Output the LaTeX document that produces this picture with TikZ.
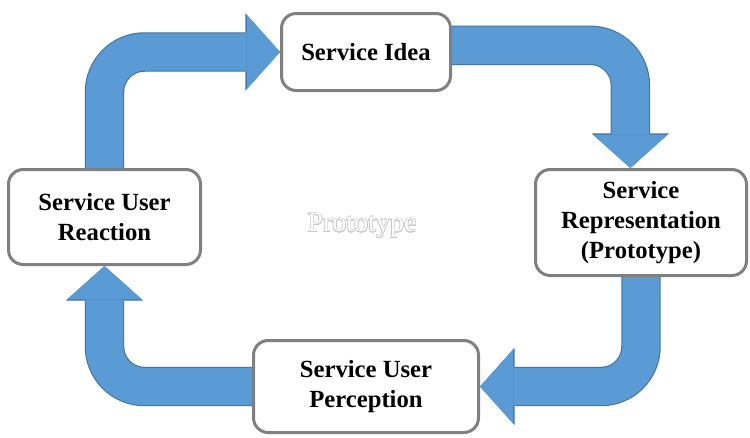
\documentclass[tikz,border=0pt]{standalone}
\usepackage{fontspec}
\setmainfont{Liberation Serif}[BoldFont={Liberation Serif Bold}]
\usepackage{contour}
\usetikzlibrary{arrows.meta,calc}
\usepackage{xcolor}
\definecolor{flowblue}{HTML}{5B9BD5}
\definecolor{flowedge}{HTML}{41719C}
\definecolor{boxgray}{HTML}{808080}
\contourlength{0.4pt}

\begin{document}
\begin{tikzpicture}[x=0.75pt,y=-0.75pt,
	box/.style={draw=boxgray,line width=2.25pt,rounded corners=11pt,fill=white,align=center,
		font=\bfseries\fontsize{18.5}{22.5}\selectfont},
	flow/.style={draw=flowblue,line width=28pt,rounded corners=30pt,
		-{Triangle[width=56pt,length=25pt,line width'=0pt]},
		preaction={draw=flowedge,line width=29.6pt,-{Triangle[width=58pt,length=26pt,line width'=0pt]}}}]
		\useasboundingbox (0,0) rectangle (750,437);
		
		% the four stages
		\node[box,minimum width=126.75pt,minimum height=57.75pt] (idea) at (366,52) {Service Idea};
		\node[box,minimum width=144pt,minimum height=71.25pt] (reaction) at (104.5,217) {Service User\\Reaction};
		\node[box,minimum width=158.25pt,minimum height=79.5pt] (repres) at (641,222.5) {Service\\Representation\\(Prototype)};
		\node[box,minimum width=168.75pt,minimum height=69pt] (percep) at (366,386.5) {Service User\\Perception};
		
		% the cycle
		\draw[flow] (reaction.north) |- (idea.west);
		\draw[flow] ([yshift=5pt]idea.east) -| ([xshift=-8pt]repres.north);
		\draw[flow] (repres.south) |- (percep.east);
		\draw[flow] (percep.west) -| (reaction.south);
		
		\node[text=white,font=\fontsize{21}{25}\selectfont] (proto) at (362,226) {\contour{gray!45}{Prototype}};
\end{tikzpicture}
\end{document}
